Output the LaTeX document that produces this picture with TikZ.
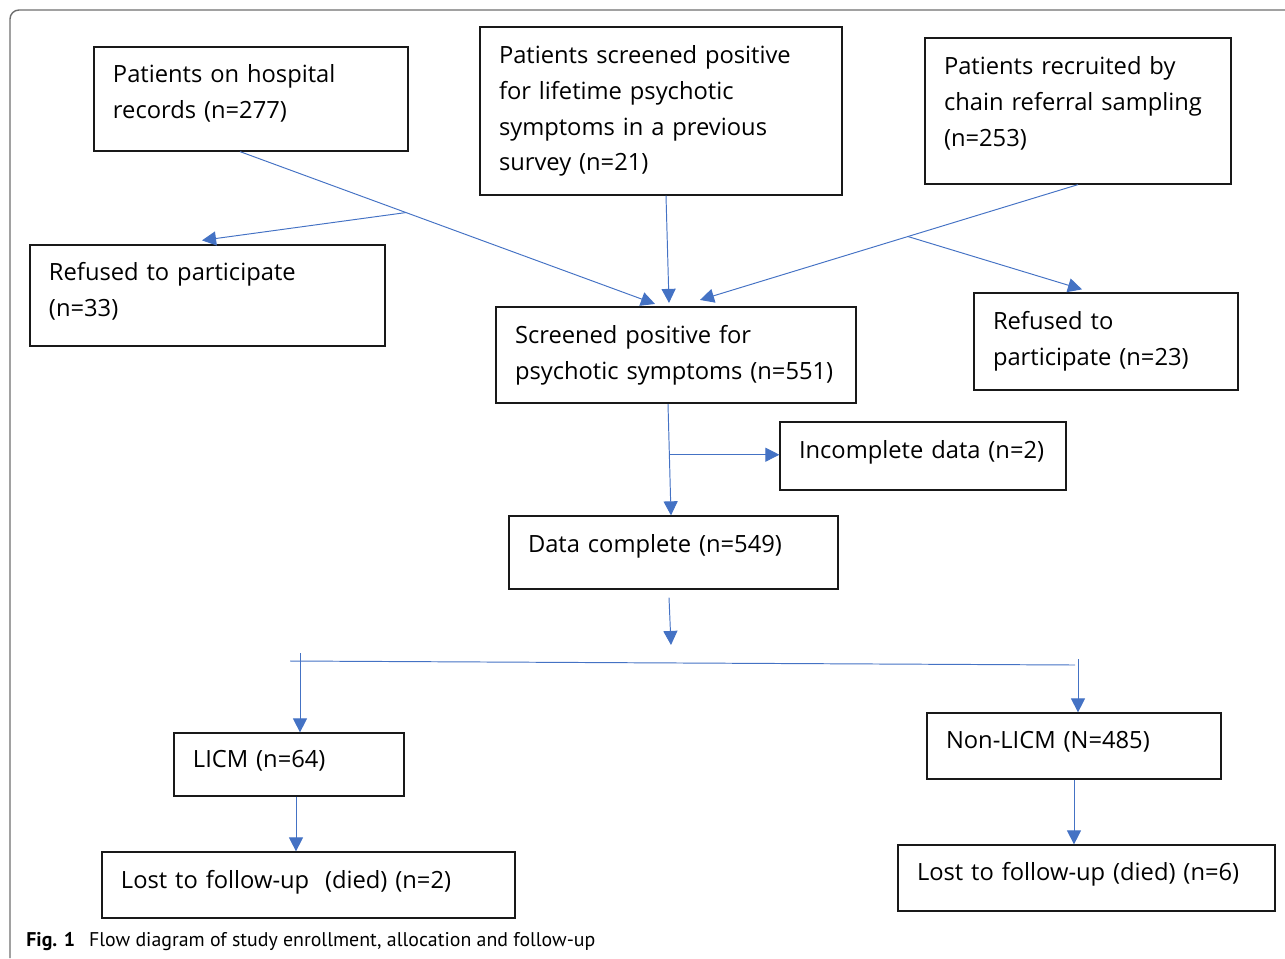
\documentclass[tikz,border=0pt]{standalone}
\usepackage{fontspec}
\setmainfont{Open Sans}
\newfontfamily\capfont{PT Sans}
\usetikzlibrary{arrows.meta}
\usetikzlibrary{calc}
\definecolor{flowblue}{RGB}{68,114,196}
\definecolor{framegray}{RGB}{110,110,110}
\tikzset{
  box/.style 2 args={draw=black!90, line width=0.7pt,
    minimum width=#1*0.02cm, minimum height=#2*0.02cm,
    text width=#1*0.02cm-0.76cm, inner xsep=0.38cm, inner ysep=0pt,
    align=left, font=\fontsize{13.5}{20.4}\selectfont},
  lift/.style={execute at end node={\rule[-#1]{0pt}{0pt}}},
  flow/.style={draw=flowblue, line width=0.55pt},
  arr/.style={flow, -{Triangle[length=8pt,width=8pt]}},
}

\begin{document}
\begin{tikzpicture}[x=0.02cm, y=-0.02cm]
\useasboundingbox (0,0) rectangle (1285,958);
\draw[framegray, line width=0.8pt, rounded corners=0.18cm] (10,958) -- (10,10) -- (1285,10);

% sources
\node[box={314}{104}, lift=9pt] (hosp) at (251,99) {Patients on hospital\\records (n=277)};
\node[box={362}{168}] (prev) at (661,111) {Patients screened positive\\for lifetime psychotic\\symptoms in a previous\\survey (n=21)};
\node[box={306}{146}, lift=11.2pt] (chain) at (1078,111) {Patients recruited by\\chain referral sampling\\(n=253)};
\node[box={355}{101}, lift=6.7pt] (refa) at (207.5,295.5) {Refused to participate\\(n=33)};
\node[box={360}{96}, line width=1.2pt] (screen) at (676,355) {Screened positive for\\psychotic symptoms (n=551)};
\node[box={264}{97}] (refb) at (1106,341.5) {Refused to\\participate (n=23)};

% data
\node[box={286}{68}, lift=7.8pt] (incomp) at (923,456) {Incomplete data (n=2)};
\node[box={329}{73}, lift=10.1pt] (datac) at (673.5,552.5) {Data complete (n=549)};

% groups
\node[box={230}{63}, lift=6.7pt] (licm) at (289,764.5) {LICM (n=64)};
\node[box={294}{66}, lift=6.7pt] (nlicm) at (1074,746) {Non-LICM (N=485)};
\node[box={413}{66}, lift=6.7pt] (losta) at (308.5,885) {Lost to follow-up~~(died) (n=2)};
\node[box={377}{66}, lift=7.8pt] (lostb) at (1086.5,878) {Lost to follow-up (died) (n=6)};

\coordinate (h1) at ([xshift=-0.22cm]hosp.south);
\coordinate (h2) at ([xshift=-0.42cm,yshift=0.04cm]screen.north);
\coordinate (c1) at (chain.south);
\coordinate (c2) at ([xshift=0.48cm,yshift=0.12cm]screen.north);
\draw[arr] (h1) -- (h2);
\draw[arr] ($(h1)!0.4!(h2)$) -- ([xshift=-0.11cm,yshift=0.08cm]refa.north);
\draw[arr] ([xshift=0.1cm]prev.south) -- ([xshift=-0.14cm,yshift=0.06cm]screen.north);
\draw[arr] (c1) -- (c2);
\draw[arr] ($(c1)!0.45!(c2)$) -- ([xshift=-0.48cm,yshift=0.06cm]refb.north);

\coordinate (s1) at ([xshift=-0.16cm]screen.south);
\coordinate (s2) at ([xshift=-0.05cm]datac.north);
\coordinate (sb) at ($(s1)!0.455!(s2)$);
\draw[arr] (s1) -- (s2);
\draw[arr] (sb) -- (sb -| incomp.west);

\coordinate (d2) at (671,645);
\draw[arr] ([xshift=-0.09cm,yshift=-0.16cm]datac.south) -- (d2);
\coordinate (sl) at (290,661);
\coordinate (sr) at (1075,665);
\draw[flow] (sl) -- (sr);
\coordinate (la) at (300,653);
\coordinate (ra) at (1078,659);
\draw[arr] (la) -- (la |- licm.north);
\draw[arr] (ra) -- (ra |- nlicm.north);
\coordinate (l1) at ([xshift=0.14cm]licm.south);
\draw[arr] (l1) -- (l1 |- losta.north);
\draw[arr] (nlicm.south) -- (nlicm.south |- lostb.north);

\node[anchor=base west, inner sep=0pt, font=\capfont\fontsize{11.3}{13}\selectfont] (cap) at (26,946)
  {\textbf{Fig. 1}\hspace{0.7em}Flow diagram of study enrollment, allocation and follow-up};
\end{tikzpicture}
\end{document}
